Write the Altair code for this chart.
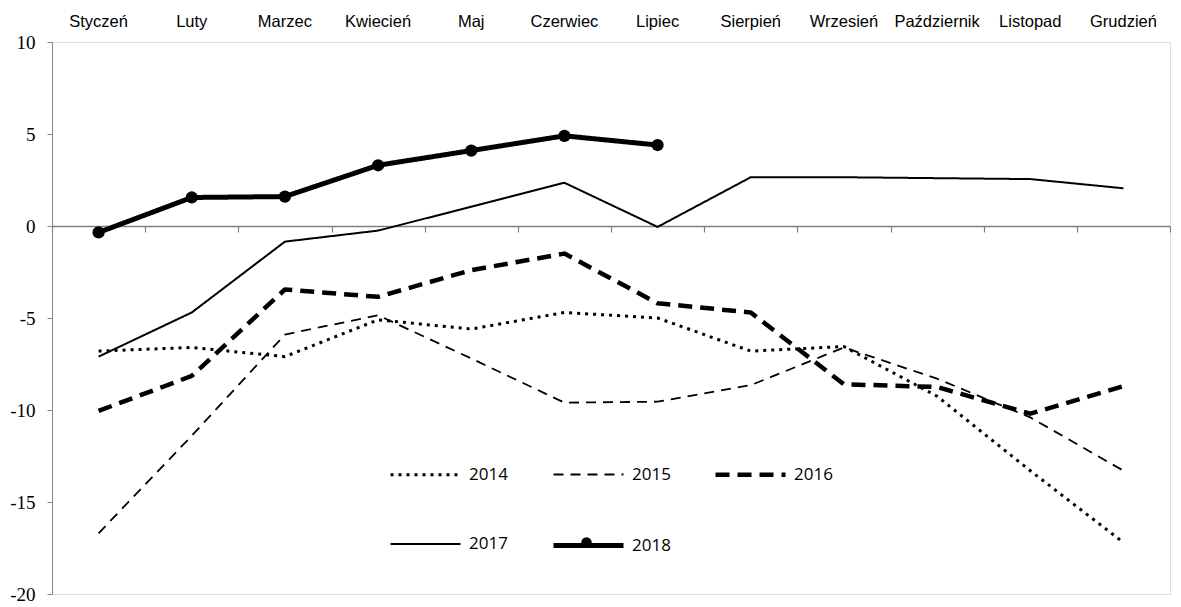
import altair as alt
import pandas as pd

months = ["Styczeń", "Luty", "Marzec", "Kwiecień", "Maj", "Czerwiec", "Lipiec",
          "Sierpień", "Wrzesień", "Październik", "Listopad", "Grudzień"]
years = ["2014", "2015", "2016", "2017", "2018"]

v2014 = [-6.8, -6.6, -7.1, -5.1, -5.6, -4.7, -5.0, -6.8, -6.55, -9.25, -13.3, -17.2]
v2015 = [-16.7, -11.4, -5.9, -4.85, -7.2, -9.6, -9.55, -8.65, -6.6, -8.3, -10.4, -13.3]
v2016 = [-10.05, -8.15, -3.45, -3.85, -2.4, -1.5, -4.2, -4.7, -8.6, -8.75, -10.2, -8.7]
v2017 = [-7.1, -4.7, -0.85, -0.25, 1.05, 2.35, -0.05, 2.65, 2.65, 2.6, 2.55, 2.05]
v2018 = [-0.35, 1.55, 1.6, 3.3, 4.1, 4.9, 4.4]

series = {"2014": v2014, "2015": v2015, "2016": v2016, "2017": v2017, "2018": v2018}
rows = []
for y, vals in series.items():
    for m, v in zip(months, vals):
        rows.append({"month": m, "year": y, "value": v})
df = pd.DataFrame(rows)

W = 1118
H = 552

xscale = alt.Scale(type="band", domain=months, paddingInner=0, paddingOuter=0)
yscale = alt.Scale(domain=[-20, 10], nice=False, zero=False)

dash_range = [[3, 5], [10, 7], [14, 8], [1, 0], [1, 0]]
width_range = [3.0, 1.8, 4.5, 2.0, 5.0]

row1 = (475 - 45) * H / 552.0
leg = alt.Legend(
    orient="none", legendX=336, legendY=row1 - 35, columns=3, direction="horizontal",
    title=None, symbolType="stroke", symbolSize=4900, symbolStrokeColor="black",
    labelFont="Open Sans", labelFontSize=17, labelColor="black",
    labelOffset=6, columnPadding=35, rowPadding=24,
)

lines = alt.Chart(df).mark_line(color="black", strokeJoin="round").encode(
    x=alt.X("month:N", sort=months, scale=xscale, bandPosition=0.5,
            axis=alt.Axis(orient="top", domain=False, ticks=False, title=None,
                          labelAngle=0, labelFont="Liberation Sans", labelFontSize=16.5,
                          labelColor="black", labelPadding=13)),
    y=alt.Y("value:Q", scale=yscale,
            axis=alt.Axis(values=[10, 5, 0, -5, -10, -15, -20], title=None, grid=False,
                          labelExpr="'' + datum.value", labelFont="Liberation Serif",
                          labelFontSize=19, labelColor="black", labelPadding=12,
                          tickSize=5, tickColor="#868686", domainColor="#868686")),
    strokeDash=alt.StrokeDash("year:O", scale=alt.Scale(type="ordinal", domain=years, range=dash_range), legend=leg),
    strokeWidth=alt.StrokeWidth("year:O", scale=alt.Scale(type="ordinal", domain=years, range=width_range), legend=leg),
)

points = alt.Chart(df).transform_filter(alt.datum.year == "2018").transform_calculate(
    mk="'o'"
).mark_point(filled=True, size=150, color="black", opacity=1).encode(
    x=alt.X("month:N", sort=months, scale=xscale, bandPosition=0.5,
            axis=alt.Axis(orient="bottom", offset=-H * 2 / 3, labels=False, title=None,
                          grid=False, tickBand="extent", tickSize=6, tickColor="#808080",
                          tickWidth=1.2, domainColor="#808080", domainWidth=1.5)),
    y=alt.Y("value:Q", scale=yscale),
    shape=alt.Shape("mk:N", scale=alt.Scale(range=["circle"]),
                    legend=alt.Legend(orient="none", legendX=529, legendY=row1 + 70 - 5,
                                      title=None, labelExpr="''", symbolSize=110,
                                      symbolFillColor="black", symbolStrokeColor="black",
                                      symbolStrokeWidth=0)),
)

chart = alt.layer(lines, points).resolve_axis(x="independent").properties(
    width=W, height=H, padding={"left": 1, "top": 5, "right": 0, "bottom": 0}
).configure_view(stroke=None).configure(background="white")

chart.save("out.html", embed_options={"renderer": "svg", "actions": False})
